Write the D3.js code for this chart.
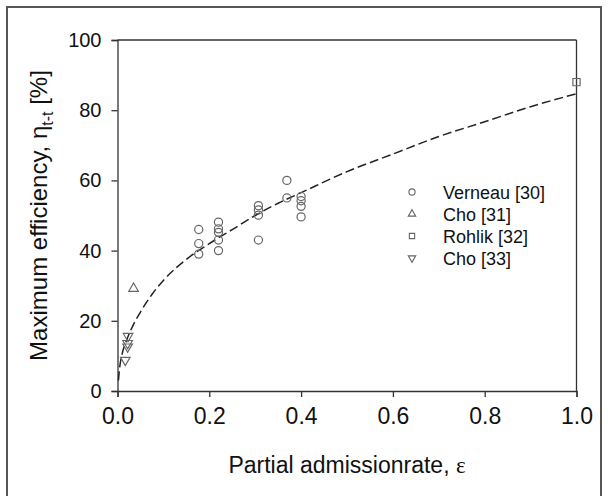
<!DOCTYPE html>
<html lang="en">
<head>
    <meta charset="UTF-8">
    <title>Maximum efficiency vs partial admission</title>
    <script src="https://d3js.org/d3.v7.min.js"></script>
    <style>
        body { margin: 0; background: #fff; }
        text { font-family: "Liberation Sans", Arial, sans-serif; fill: #111; }
    </style>
</head>
<body>
<svg id="chart"></svg>
<script>
// Daten
var verneauX = [0.177, 0.177, 0.177, 0.22, 0.22, 0.22, 0.22, 0.22, 0.307, 0.307, 0.307, 0.307, 0.369, 0.369, 0.40, 0.40, 0.40, 0.40];
var verneauY = [46.0, 42.0, 39.0, 48.1, 46.2, 45.2, 43.0, 40.0, 52.8, 51.6, 50.1, 43.0, 60.0, 55.0, 55.4, 54.2, 52.6, 49.6];
var cho31X = [0.035];
var cho31Y = [29.2];
var rohlikX = [1.0];
var rohlikY = [88.0];
var cho33X = [0.017, 0.022, 0.022, 0.023];
var cho33Y = [8.8, 12.6, 13.6, 15.6];
var fitX = [0.002, 0.005, 0.01, 0.02, 0.035, 0.05, 0.075, 0.1, 0.15, 0.2, 0.25, 0.3, 0.35, 0.4, 0.5, 0.6, 0.7, 0.8, 0.9, 1.0];
var fitY = [3, 7, 10.5, 14.5, 19, 22.5, 27.5, 31.5, 37.5, 42, 46, 50, 53.5, 56.5, 62.5, 67.5, 72.5, 76.7, 81, 84.7];
var xTicks = [0, 0.2, 0.4, 0.6, 0.8, 1.0];
var yTicks = [0, 20, 40, 60, 80, 100];
var legendNames = ["Verneau [30]", "Cho [31]", "Rohlik [32]", "Cho [33]"];

var width = 608, height = 496;
var svg = d3.select("#chart").attr("width", width).attr("height", height);

// Rahmen um das ganze Bild
svg.append("rect")
    .attr("x", 7).attr("y", 7)
    .attr("width", 594).attr("height", 500)
    .attr("fill", "none").attr("stroke", "#555").attr("stroke-width", 2);

var plotLeft = 117.5, plotRight = 576.5, plotTop = 40, plotBottom = 391;
var x = d3.scaleLinear().domain([0, 1]).range([plotLeft, plotRight]);
var y = d3.scaleLinear().domain([0, 100]).range([plotBottom, plotTop]);

var axisColor = "#333";

// Achsen
var xAxis = svg.append("g")
    .attr("transform", "translate(0," + plotBottom + ")")
    .call(d3.axisBottom(x).tickValues(xTicks).tickFormat(d3.format(".1f")).tickSize(6).tickPadding(11));
xAxis.selectAll("text").style("font-size", "23px");

var yAxis = svg.append("g")
    .attr("transform", "translate(" + plotLeft + ",0)")
    .call(d3.axisLeft(y).tickValues(yTicks).tickSize(6).tickPadding(10));
yAxis.selectAll("text").style("font-size", "20px");

svg.selectAll(".domain, .tick line").attr("stroke", axisColor).attr("stroke-width", 1.3);
svg.selectAll(".tick text").attr("fill", "#111");

// obere und rechte Begrenzung
svg.append("line").attr("x1", plotLeft).attr("x2", plotRight).attr("y1", plotTop).attr("y2", plotTop)
    .attr("stroke", axisColor).attr("stroke-width", 1.3);
svg.append("line").attr("x1", plotRight).attr("x2", plotRight).attr("y1", plotTop).attr("y2", plotBottom)
    .attr("stroke", axisColor).attr("stroke-width", 1.3);

// Ausgleichskurve
var fit = fitX.map(function(d, i) { return [d, fitY[i]]; });
var line = d3.line()
    .x(function(d) { return x(d[0]); })
    .y(function(d) { return y(d[1]); })
    .curve(d3.curveMonotoneX);
svg.append("path")
    .datum(fit)
    .attr("d", line)
    .attr("fill", "none")
    .attr("stroke", "#222")
    .attr("stroke-width", 1.5)
    .attr("stroke-dasharray", "9,4");

var markColor = "#666";
var symCircle = d3.symbol().type(d3.symbolCircle);
var symTri = d3.symbol().type(d3.symbolTriangle);
var symSquare = d3.symbol().type(d3.symbolSquare);

function drawPoints(xs, ys, sym, size, rot) {
    svg.append("g").selectAll("path")
        .data(xs.map(function(d, i) { return [d, ys[i]]; }))
        .enter().append("path")
        .attr("d", sym.size(size)())
        .attr("transform", function(d) {
            return "translate(" + x(d[0]) + "," + y(d[1]) + ")" + (rot ? " rotate(180)" : "");
        })
        .attr("fill", "none")
        .attr("stroke", markColor)
        .attr("stroke-width", 1.2);
}

drawPoints(verneauX, verneauY, symCircle, 52, false);
drawPoints(cho31X, cho31Y, symTri, 40, false);
drawPoints(rohlikX, rohlikY, symSquare, 52, false);
drawPoints(cho33X, cho33Y, symTri, 40, true);

// Legende
var legendSyms = [[symCircle, 30, false], [symTri, 24, false], [symSquare, 28, false], [symTri, 24, true]];
var legend = svg.append("g");
legendNames.forEach(function(name, i) {
    var ly = 192 + i * 22;
    var s = legendSyms[i];
    legend.append("path")
        .attr("d", s[0].size(s[1])())
        .attr("transform", "translate(412," + ly + ")" + (s[2] ? " rotate(180)" : ""))
        .attr("fill", "none").attr("stroke", markColor).attr("stroke-width", 1.1);
    legend.append("text")
        .attr("x", 443).attr("y", ly + 6.5)
        .style("font-size", "18px")
        .text(name);
});

// Achsentitel
var xt = svg.append("text")
    .attr("x", (plotLeft + plotRight) / 2).attr("y", 473)
    .attr("text-anchor", "middle")
    .style("font-size", "23px");
xt.append("tspan").text("Partial admissionrate, ");
xt.append("tspan").style("font-family", "'Liberation Serif', serif").text("ε");

var yt = svg.append("text")
    .attr("transform", "translate(47," + ((plotTop + plotBottom) / 2) + ") rotate(-90)")
    .attr("text-anchor", "middle")
    .style("font-size", "24px");
yt.append("tspan").text("Maximum efficiency, η");
yt.append("tspan").attr("dy", 6).style("font-size", "16px").text("t-t");
yt.append("tspan").attr("dy", -6).text(" [%]");
</script>
</body>
</html>
